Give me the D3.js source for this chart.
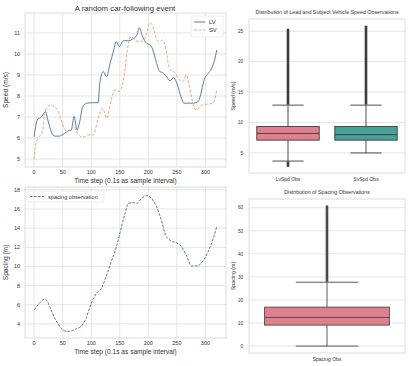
<!DOCTYPE html>
<html lang="en">
<head>
<meta charset="UTF-8">
<title>Car-following event</title>
<script src="https://d3js.org/d3.v7.min.js"></script>
<style>
    body { margin: 0; background: #fff; }
    svg text { font-family: "Liberation Sans", Arial, sans-serif; fill: #333; }
    .grid line { stroke: #dedede; stroke-width: 0.8; }
</style>
</head>
<body>
<svg id="chart" width="409" height="366"></svg>
<script>
// time series
const lvT = [0, 6, 12, 20, 24, 30, 36, 44, 53, 59, 65, 70, 75, 80, 85, 92, 100, 112, 115, 121, 127, 133, 138, 144, 149, 156, 165, 172, 180, 184, 190, 197, 203, 208, 214, 220, 226, 232, 238, 244, 250, 258, 262, 270, 279, 287, 292, 297, 305, 310, 316, 320];
const lvV = [6.06, 6.9, 6.98, 7.25, 6.86, 6.3, 6.09, 6.09, 6.22, 6.33, 6.37, 7.03, 6.37, 6.8, 7.49, 7.65, 7.68, 7.68, 8.6, 9.16, 8.92, 9.56, 10.03, 10.59, 10.35, 10.63, 10.63, 10.7, 10.9, 11.25, 10.82, 10.5, 10.43, 10.19, 9.6, 9.16, 9.1, 8.92, 8.72, 8.88, 8.6, 7.89, 7.66, 7.66, 7.66, 7.73, 8.1, 8.7, 9.08, 9.27, 9.71, 10.2];
const svT = [0, 3, 9, 15, 20, 29, 35, 41, 47, 53, 58, 64, 70, 76, 82, 88, 94, 103, 114, 120, 127, 135, 141, 147, 153, 159, 165, 170, 176, 185, 191, 197, 203, 208, 214, 219, 225, 231, 237, 246, 255, 261, 266, 272, 278, 284, 290, 298, 306, 313, 320];
const svV = [4.98, 5.75, 6.06, 6.37, 7.33, 7.57, 7.49, 7.33, 6.86, 6.46, 6.3, 6.46, 6.54, 6.22, 6.06, 6.06, 6.14, 6.14, 7.1, 7.41, 6.94, 7.8, 8.29, 8.21, 8.37, 9.24, 10.5, 10.82, 10.66, 10.59, 10.63, 10.98, 11.5, 11.3, 10.74, 10.59, 10.66, 10.2, 9.28, 9.12, 8.76, 8.7, 9.0, 8.44, 7.65, 7.33, 7.49, 7.6, 7.62, 7.65, 8.3];
const spT = [0, 9, 18, 23, 32, 41, 50, 58, 67, 76, 82, 91, 100, 109, 118, 126, 135, 144, 153, 159, 165, 172, 180, 188, 197, 205, 214, 223, 230, 240, 250, 259, 267, 276, 285, 296, 305, 312, 320];
const spV = [5.46, 6.15, 6.57, 6.33, 5.1, 4.07, 3.38, 3.2, 3.3, 3.55, 3.72, 4.59, 6.15, 7.19, 7.72, 8.93, 10.5, 12.05, 14.14, 15.5, 16.57, 16.67, 16.6, 17.1, 17.4, 17.15, 16.3, 14.8, 13.3, 12.65, 12.45, 12.0, 11.1, 10.04, 10.05, 10.6, 11.6, 12.6, 14.2];

// box plots: [whiskerLow, q1, median, q3, whiskerHigh, flierLow, flierHigh]
const speedCats = ["LvSpd Obs", "SvSpd Obs"];
const speedBoxes = [
    [3.66, 7.1, 8.2, 9.35, 12.85, 2.8, 25.4],
    [5.0, 7.1, 8.0, 9.35, 12.85, 5.0, 25.9]
];
const speedColors = ["#e07f8d", "#48a098"];
const spacingCats = ["Spacing Obs"];
const spacingBoxes = [[0, 9.1, 12.4, 16.9, 27.7, 0, 61]];
const spacingColors = ["#e07f8d"];

const timeTicks = [0, 50, 100, 150, 200, 250, 300];
const speedTicks = [5, 6, 7, 8, 9, 10, 11];
const spacingTicks = [4, 6, 8, 10, 12, 14, 16, 18];
const boxSpeedTicks = [5, 10, 15, 20, 25];
const boxSpacingTicks = [0, 10, 20, 30, 40, 50, 60];

const svg = d3.select("#chart");

function frame(x0, y0, w, h) {
    svg.append("rect").attr("x", x0).attr("y", y0).attr("width", w).attr("height", h)
        .attr("fill", "none").attr("stroke", "#d4d4d4").attr("stroke-width", 0.8);
}

function linePanel(top, yDomain, yTicks, yLabel) {
    const box = {x: 25, y: top, w: 201, h: 0};
    const x = d3.scaleLinear().domain([-16, 336]).range([25, 226]);
    const y = d3.scaleLinear().domain(yDomain).range([top.b, top.t]);
    const g = svg.append("g");
    g.append("g").attr("class", "grid").selectAll("line").data(timeTicks).join("line")
        .attr("x1", d => x(d)).attr("x2", d => x(d)).attr("y1", top.t).attr("y2", top.b);
    g.append("g").attr("class", "grid").selectAll("line").data(yTicks).join("line")
        .attr("x1", 25).attr("x2", 226).attr("y1", d => y(d)).attr("y2", d => y(d));
    frame(25, top.t, 201, top.b - top.t);
    g.append("g").selectAll("text").data(timeTicks).join("text")
        .attr("x", d => x(d)).attr("y", top.b + 7).attr("text-anchor", "middle")
        .attr("font-size", 5.5).text(d => d);
    g.append("g").selectAll("text").data(yTicks).join("text")
        .attr("x", 20).attr("y", d => y(d) + 2).attr("text-anchor", "end")
        .attr("font-size", 5.5).text(d => d);
    g.append("text").attr("x", 125.5).attr("y", top.b + 16).attr("text-anchor", "middle")
        .attr("font-size", 6.6).text("Time step (0.1s as sample interval)");
    g.append("text").attr("transform", `translate(8,${(top.t + top.b) / 2}) rotate(-90)`)
        .attr("text-anchor", "middle").attr("font-size", 6.6).text(yLabel);
    return {x, y, g};
}

// top-left: speeds
const p1 = linePanel({t: 13, b: 167}, [4.62, 11.95], speedTicks, "Speed (m/s)");
svg.append("text").attr("x", 125).attr("y", 11).attr("text-anchor", "middle")
    .attr("font-size", 7.8).text("A random car-following event");
const lv = d3.line().curve(d3.curveMonotoneX).x((d, i) => p1.x(lvT[i])).y(d => p1.y(d));
const sv = d3.line().curve(d3.curveMonotoneX).x((d, i) => p1.x(svT[i])).y(d => p1.y(d));
p1.g.append("path").attr("d", lv(lvV)).attr("fill", "none").attr("stroke", "#4d6f96").attr("stroke-width", 0.9);
p1.g.append("path").attr("d", sv(svV)).attr("fill", "none").attr("stroke", "#e2a274")
    .attr("stroke-width", 0.9).attr("stroke-dasharray", "3,1.6");
// legend
p1.g.append("rect").attr("x", 191).attr("y", 16).attr("width", 32).attr("height", 21)
    .attr("fill", "#fff").attr("fill-opacity", 0.85).attr("stroke", "#e2e2e2").attr("stroke-width", 0.6).attr("rx", 1.5);
p1.g.append("line").attr("x1", 194).attr("x2", 205).attr("y1", 22).attr("y2", 22).attr("stroke", "#4d6f96").attr("stroke-width", 0.9);
p1.g.append("line").attr("x1", 194).attr("x2", 205).attr("y1", 30).attr("y2", 30).attr("stroke", "#e2a274")
    .attr("stroke-width", 0.9).attr("stroke-dasharray", "3,1.6");
p1.g.append("text").attr("x", 209).attr("y", 24).attr("font-size", 5.8).text("LV");
p1.g.append("text").attr("x", 209).attr("y", 32).attr("font-size", 5.8).text("SV");

// bottom-left: spacing
const p2 = linePanel({t: 187, b: 338}, [2.52, 18.3], spacingTicks, "Spacing (m)");
const sp = d3.line().curve(d3.curveMonotoneX).x((d, i) => p2.x(spT[i])).y(d => p2.y(d));
p2.g.append("path").attr("d", sp(spV)).attr("fill", "none").attr("stroke", "#4b6280")
    .attr("stroke-width", 0.9).attr("stroke-dasharray", "2.6,1.4");
p2.g.append("rect").attr("x", 27).attr("y", 191).attr("width", 77).attr("height", 11)
    .attr("fill", "#fff").attr("stroke", "#e2e2e2").attr("stroke-width", 0.6).attr("rx", 1.5);
p2.g.append("line").attr("x1", 30).attr("x2", 44).attr("y1", 196.5).attr("y2", 196.5).attr("stroke", "#4b6280")
    .attr("stroke-width", 0.9).attr("stroke-dasharray", "2.6,1.4");
p2.g.append("text").attr("x", 48).attr("y", 198.5).attr("font-size", 5.6).text("spacing observation");

// right: box plots
function boxPanel(t, b, cats, boxes, colors, domain, ticks, yLabel, title, edge) {
    const x = d3.scaleBand().domain(cats).range([249, 405]).paddingInner(0.2).paddingOuter(0.1);
    const y = d3.scaleLinear().domain(domain).range([b, t]);
    const g = svg.append("g");
    g.append("g").attr("class", "grid").selectAll("line").data(ticks).join("line")
        .attr("x1", 249).attr("x2", 405).attr("y1", d => y(d)).attr("y2", d => y(d));
    frame(249, t, 156, b - t);
    g.append("g").selectAll("text").data(ticks).join("text")
        .attr("x", 243).attr("y", d => y(d) + 1.7).attr("text-anchor", "end")
        .attr("font-size", 4.6).text(d => d);
    g.append("g").selectAll("text").data(cats).join("text")
        .attr("x", d => x(d) + x.bandwidth() / 2).attr("y", b + 8).attr("text-anchor", "middle")
        .attr("font-size", 5).text(d => d);
    g.append("text").attr("x", 327).attr("y", t - 5).attr("text-anchor", "middle")
        .attr("font-size", 5.3).text(title);
    g.append("text").attr("transform", `translate(235,${(t + b) / 2}) rotate(-90)`)
        .attr("text-anchor", "middle").attr("font-size", 5.3).text(yLabel);
    cats.forEach((c, i) => {
        const s = boxes[i];
        const cx = x(c) + x.bandwidth() / 2;
        const bw = x.bandwidth();
        g.append("line").attr("x1", cx).attr("x2", cx).attr("y1", y(s[0])).attr("y2", y(s[4]))
            .attr("stroke", edge).attr("stroke-width", 0.9);
        [s[0], s[4]].forEach(v => g.append("line").attr("x1", cx - bw / 4).attr("x2", cx + bw / 4)
            .attr("y1", y(v)).attr("y2", y(v)).attr("stroke", edge).attr("stroke-width", 0.9));
        g.append("rect").attr("x", cx - bw / 2).attr("y", y(s[3])).attr("width", bw)
            .attr("height", y(s[1]) - y(s[3])).attr("fill", colors[i]).attr("stroke", edge).attr("stroke-width", 0.9);
        g.append("line").attr("x1", cx - bw / 2).attr("x2", cx + bw / 2).attr("y1", y(s[2])).attr("y2", y(s[2]))
            .attr("stroke", edge).attr("stroke-width", 0.9);
        // flier columns (dense outliers)
        g.append("rect").attr("x", cx - 1.3).attr("y", y(s[6])).attr("width", 2.6)
            .attr("height", y(s[4]) - y(s[6]) - 0.5).attr("fill", edge);
        if (s[5] < s[0]) {
            g.append("rect").attr("x", cx - 1.3).attr("y", y(s[0]) + 0.5).attr("width", 2.6)
                .attr("height", y(s[5]) - y(s[0])).attr("fill", edge);
        }
    });
}

boxPanel(19, 173, speedCats, speedBoxes, speedColors, [1.7, 27.0], boxSpeedTicks,
    "Speed (m/s)", "Distribution of Lead and Subject Vehicle Speed Observations", "#3c3c3c");
boxPanel(199, 353, spacingCats, spacingBoxes, spacingColors, [-3.0, 63.8], boxSpacingTicks,
    "Spacing (m)", "Distribution of Spacing Observations", "#4a4a4a");
</script>
</body>
</html>
